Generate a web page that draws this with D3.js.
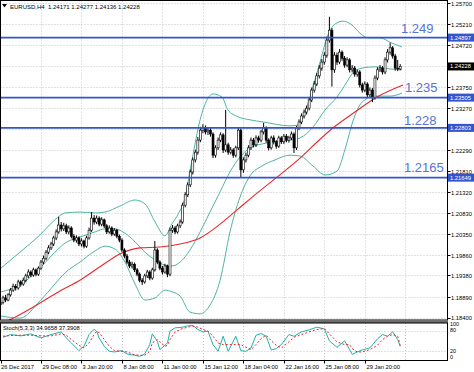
<!DOCTYPE html>
<html><head><meta charset="utf-8">
<script src="https://cdn.jsdelivr.net/npm/d3@7"></script>
<style>body{margin:0;background:#fff}svg{display:block}</style>
</head><body>
<svg id="c" width="474" height="372"></svg>
<script>
const titleText = "EURUSD,H4  1.24171 1.24277 1.24136 1.24228";
const stochTitle = "Stoch(5,3,3) 34.9658 37.3908";

const openP = [1.1870,1.1876,1.1886,1.1881,1.1893,1.1904,1.1913,1.1909,1.1923,1.1918,
1.1927,1.1937,1.1946,1.1939,1.1951,1.1941,1.1955,1.1969,1.1978,1.1992,
1.2002,1.2011,1.2025,1.2039,1.2055,1.2046,1.2053,1.2039,1.2048,1.2029,
1.2020,1.2025,1.2011,1.2018,1.2006,1.2025,1.2043,1.2071,1.2062,1.2071,
1.2057,1.2067,1.2053,1.2039,1.2048,1.2034,1.2043,1.2029,1.2020,1.1997,
1.1983,1.1969,1.1960,1.1964,1.1951,1.1941,1.1927,1.1923,1.1937,1.1946,
1.1932,1.1951,1.1997,1.1969,1.1955,1.1946,1.1960,1.1941,1.2043,1.2048,
1.2039,1.2053,1.2062,1.2101,1.2125,1.2148,1.2178,1.2206,1.2224,1.2252,
1.2275,1.2280,1.2271,1.2275,1.2266,1.2217,1.2234,1.2252,1.2264,1.2229,
1.2241,1.2224,1.2229,1.2217,1.2234,1.2275,1.2183,1.2206,1.2217,1.2234,
1.2252,1.2241,1.2257,1.2252,1.2271,1.2280,1.2252,1.2234,1.2257,1.2248,
1.2238,1.2257,1.2248,1.2261,1.2252,1.2257,1.2266,1.2234,1.2280,1.2294,
1.2308,1.2317,1.2326,1.2345,1.2368,1.2382,1.2401,1.2419,1.2433,1.2449,
1.2484,1.2507,1.2415,1.2449,1.2433,1.2456,1.2442,1.2426,1.2438,1.2415,
1.2419,1.2405,1.2410,1.2380,1.2368,1.2382,1.2357,1.2368,1.2350,1.2396,
1.2415,1.2419,1.2410,1.2438,1.2456,1.2466,1.2447,1.2419,1.2417];
const highP = [1.1882,1.1891,1.1893,1.1897,1.1909,1.1919,1.1918,1.1928,1.1927,1.1933,
1.1942,1.1952,1.1950,1.1956,1.1954,1.1959,1.1974,1.1984,1.1997,1.2008,
1.2016,1.2030,1.2045,1.2074,1.2062,1.2060,1.2058,1.2054,1.2052,1.2034,
1.2031,1.2029,1.2024,1.2021,1.2030,1.2049,1.2085,1.2078,1.2077,1.2075,
1.2073,1.2070,1.2057,1.2054,1.2052,1.2048,1.2046,1.2033,1.2024,1.2001,
1.1988,1.1974,1.1970,1.1968,1.1955,1.1945,1.1932,1.1942,1.1951,1.1950,
1.1956,1.2018,1.2001,1.1973,1.1960,1.1965,1.1963,1.2049,1.2055,1.2053,
1.2058,1.2068,1.2107,1.2131,1.2154,1.2184,1.2212,1.2230,1.2259,1.2283,
1.2289,1.2286,1.2282,1.2280,1.2270,1.2240,1.2258,1.2270,1.2268,1.2322,
1.2246,1.2236,1.2233,1.2239,1.2281,1.2279,1.2212,1.2223,1.2240,1.2258,
1.2257,1.2263,1.2262,1.2276,1.2292,1.2284,1.2256,1.2262,1.2263,1.2252,
1.2262,1.2261,1.2266,1.2266,1.2262,1.2272,1.2270,1.2285,1.2300,1.2314,
1.2323,1.2332,1.2351,1.2374,1.2389,1.2408,1.2426,1.2440,1.2456,1.2492,
1.2538,1.2512,1.2456,1.2455,1.2463,1.2460,1.2447,1.2444,1.2442,1.2426,
1.2424,1.2416,1.2414,1.2385,1.2388,1.2386,1.2374,1.2373,1.2402,1.2421,
1.2426,1.2424,1.2444,1.2463,1.2478,1.2470,1.2452,1.2438,1.2428];
const lowP = [1.1864,1.1871,1.1876,1.1878,1.1889,1.1900,1.1903,1.1905,1.1912,1.1914,
1.1922,1.1932,1.1934,1.1935,1.1936,1.1937,1.1951,1.1964,1.1973,1.1987,
1.1997,1.2006,1.2020,1.2035,1.2040,1.2041,1.2034,1.2033,1.2024,1.2015,
1.2014,1.2006,1.2005,1.2001,1.2002,1.2021,1.2039,1.2056,1.2057,1.2052,
1.2052,1.2048,1.2034,1.2035,1.2029,1.2030,1.2024,1.2015,1.1992,1.1978,
1.1964,1.1955,1.1954,1.1946,1.1936,1.1922,1.1916,1.1919,1.1932,1.1927,
1.1928,1.1947,1.1964,1.1950,1.1940,1.1942,1.1934,1.1936,1.2037,1.2034,
1.2035,1.2048,1.2058,1.2096,1.2120,1.2143,1.2172,1.2200,1.2218,1.2247,
1.2268,1.2265,1.2264,1.2260,1.2210,1.2211,1.2229,1.2247,1.2222,1.2224,
1.2218,1.2219,1.2211,1.2212,1.2229,1.2166,1.2176,1.2200,1.2212,1.2229,
1.2235,1.2236,1.2246,1.2247,1.2265,1.2246,1.2228,1.2230,1.2242,1.2232,
1.2234,1.2243,1.2243,1.2247,1.2246,1.2252,1.2222,1.2229,1.2275,1.2289,
1.2302,1.2311,1.2321,1.2340,1.2362,1.2377,1.2395,1.2413,1.2427,1.2443,
1.2478,1.2376,1.2408,1.2426,1.2428,1.2436,1.2420,1.2421,1.2409,1.2409,
1.2399,1.2399,1.2374,1.2362,1.2363,1.2350,1.2352,1.2340,1.2346,1.2391,
1.2410,1.2404,1.2405,1.2432,1.2450,1.2441,1.2413,1.2412,1.2414];
const closeP = [1.1876,1.1886,1.1881,1.1893,1.1904,1.1913,1.1909,1.1923,1.1918,1.1927,
1.1937,1.1946,1.1939,1.1951,1.1941,1.1955,1.1969,1.1978,1.1992,1.2002,
1.2011,1.2025,1.2039,1.2055,1.2046,1.2053,1.2039,1.2048,1.2029,1.2020,
1.2025,1.2011,1.2018,1.2006,1.2025,1.2043,1.2071,1.2062,1.2071,1.2057,
1.2067,1.2053,1.2039,1.2048,1.2034,1.2043,1.2029,1.2020,1.1997,1.1983,
1.1969,1.1960,1.1964,1.1951,1.1941,1.1927,1.1923,1.1937,1.1946,1.1932,
1.1951,1.1997,1.1969,1.1955,1.1946,1.1960,1.1941,1.2043,1.2048,1.2039,
1.2053,1.2062,1.2101,1.2125,1.2148,1.2178,1.2206,1.2224,1.2252,1.2275,
1.2280,1.2271,1.2275,1.2266,1.2217,1.2234,1.2252,1.2264,1.2229,1.2241,
1.2224,1.2229,1.2217,1.2234,1.2275,1.2183,1.2206,1.2217,1.2234,1.2252,
1.2241,1.2257,1.2252,1.2271,1.2280,1.2252,1.2234,1.2257,1.2248,1.2238,
1.2257,1.2248,1.2261,1.2252,1.2257,1.2266,1.2234,1.2280,1.2294,1.2308,
1.2317,1.2326,1.2345,1.2368,1.2382,1.2401,1.2419,1.2433,1.2449,1.2484,
1.2507,1.2415,1.2449,1.2433,1.2456,1.2442,1.2426,1.2438,1.2415,1.2419,
1.2405,1.2410,1.2380,1.2368,1.2382,1.2357,1.2368,1.2350,1.2396,1.2415,
1.2419,1.2410,1.2438,1.2456,1.2466,1.2447,1.2419,1.2417,1.2423];

// Bollinger bands
const upperBars = [0.2,7.7,15.6,21.5,25.5,31.4,37.4,41.3,47.2,53.2,57.1,61.1,65.0,67.8,70.2,72.9,75.7,78.9,81.6,84.0,87.5,89.9,93.9,98.6,103.8,114.4,117.6,120.4,123.1,126.3,129.4,132.2,135.4,138.9,142.1,145.3,150.0,154.7,158.7];
const upperVals = [1.1955,1.1992,1.2032,1.2067,1.2083,1.2085,1.2083,1.2085,1.2099,1.2113,1.2104,1.2062,1.2030,1.2058,1.2080,1.2118,1.2206,1.2299,1.2345,1.2359,1.2352,1.2322,1.2306,1.2299,1.2294,1.2285,1.2287,1.2317,1.2368,1.2433,1.2496,1.2521,1.2528,1.2519,1.2500,1.2489,1.2489,1.2477,1.2468];
const bandBars = [0.2,7.7,15.6,21.5,25.5,31.4,37.4,41.3,45.3,49.2,53.2,57.1,61.1,65.0,67.8,71.0,74.9,78.9,82.8,86.8,90.7,94.7,98.6,103.4,108.5,114.4,118.4,123.5,128.3,133.0,136.2,139.3,142.9,148.0,154.0,158.7];
const middleVals = [1.1900,1.1916,1.1955,1.1992,1.2013,1.2027,1.2039,1.2046,1.2046,1.2036,1.2016,1.1992,1.1974,1.1962,1.1960,1.1969,1.1997,1.2039,1.2085,1.2132,1.2178,1.2213,1.2234,1.2243,1.2248,1.2252,1.2257,1.2282,1.2322,1.2352,1.2380,1.2408,1.2419,1.2422,1.2417,1.2415];
const lowerVals = [1.1844,1.1839,1.1879,1.1918,1.1944,1.1969,1.1995,1.2006,1.1999,1.1969,1.1918,1.1881,1.1886,1.1904,1.1900,1.1890,1.1853,1.1849,1.1869,1.1927,1.2039,1.2120,1.2169,1.2192,1.2206,1.2217,1.2215,1.2192,1.2171,1.2180,1.2231,1.2296,1.2340,1.2354,1.2354,1.2361];

// Red moving average
const maBars = [0,5.0,15.6,23.5,31.4,39.3,47.2,55.1,63.0,71.0,78.9,86.8,93.5,101.4,109.3,118.4,126.3,131.4,140.1,148.8,159.1];
const maVals = [1.1825,1.1839,1.1874,1.1902,1.1927,1.1958,1.1988,1.2002,1.2004,1.2011,1.2025,1.2057,1.2090,1.2129,1.2166,1.2210,1.2254,1.2280,1.2317,1.2352,1.2380];

// Stochastic
const stochBars = [1,4,8,12,16,20,24,26,28,31,33,35,37,38,39,41,43,45,48,50,53,55,57,59,60,62,63,65,66,67,69,72,74,76,78,80,82,84,86,88,90,93,95,97,99,101,103,105,107,109,111,114,116,119,122,125,128,130,133,136,138,139,141,143,146,149,151,153,155,157,158];
const stochK = [62,70,66,72,60,70,78,60,45,22,35,70,86,80,60,35,20,18,22,12,8,5,12,40,72,50,25,38,45,80,90,92,96,97,85,78,80,40,20,65,20,65,22,20,30,68,73,65,24,28,40,70,65,78,84,92,87,51,32,51,25,11,18,24,30,57,70,65,78,55,35];
const stochD = [65,67,68,68,66,66,72,68,55,38,30,45,70,80,76,55,35,22,20,18,10,8,8,20,45,55,48,35,38,55,78,88,92,95,92,85,80,65,45,40,40,40,40,32,25,40,58,68,52,38,30,48,62,70,78,85,88,72,48,40,40,28,18,18,25,38,55,65,70,65,37];
const stochLevels = [80, 20];
const stochAxisLabels = ["100","80","20","0"];
const stochAxisValues = [100, 80, 20, 0];

// Axes
const priceTicks = [1.25700,1.25210,1.24720,1.24235,1.23750,1.23270,1.22780,1.22290,1.21810,1.21320,1.20830,1.20350,1.19860,1.19380,1.18890,1.18400];
const priceTickLabels = ["1.25700","1.25210","1.24720","","1.23750","1.23270","","1.22290","1.21810","1.21320","1.20830","1.20350","1.19860","1.19380","1.18890","1.18400"];
const dateLabels = ["26 Dec 2017","29 Dec 08:00","3 Jan 20:00","8 Jan 08:00","11 Jan 00:00","15 Jan 12:00","18 Jan 04:00","22 Jan 16:00","25 Jan 08:00","29 Jan 20:00"];
const dateBars = [0,16,32,48,64,80,96,112,128,144];
const gridBars = [16,32,48,64,80,96,112,128,144,160];

// Horizontal levels
const levelValues = [1.24897,1.23505,1.22803,1.21649];
const levelBoxLabels = ["1.24897","1.23505","1.22803","1.21649"];
const levelTexts = ["1.249","1.235","1.228","1.2165"];
const lastPrice = 1.24228;
const lastPriceLabel = "1.24228";

// ---------- drawing ----------
const svg = d3.select("#c");
const plotL = 0.5, plotR = 447.5, mainT = 0.5, mainB = 320, stochT = 323, stochB = 360.5;
const FONT = "'Liberation Sans', Arial, sans-serif";
const BLUE = "#3356cc";

svg.append("rect").attr("width",474).attr("height",372).attr("fill","#fff");

const x = d3.scaleLinear().domain([0,160]).range([0.5, 0.5 + 2.53*160]);
const y = d3.scaleLinear().domain([1.184,1.257]).range([317.7,3]);
const ys = d3.scaleLinear().domain([0,100]).range([358,324.5]);

const defs = svg.append("defs");
defs.append("clipPath").attr("id","cm").append("rect").attr("x",plotL).attr("y",mainT).attr("width",plotR-plotL).attr("height",mainB-mainT);
defs.append("clipPath").attr("id","cs").append("rect").attr("x",plotL).attr("y",stochT).attr("width",plotR-plotL).attr("height",stochB-stochT);

// grid
const grid = svg.append("g").attr("stroke","#c4c4c4").attr("stroke-width",1).attr("stroke-dasharray","1,2");
priceTicks.forEach(p => grid.append("line").attr("x1",plotL).attr("x2",plotR).attr("y1",Math.round(y(p))+0.5).attr("y2",Math.round(y(p))+0.5));
gridBars.forEach(b => {
  const gx = Math.round(x(b))+0.5;
  grid.append("line").attr("x1",gx).attr("x2",gx).attr("y1",mainT).attr("y2",mainB);
  grid.append("line").attr("x1",gx).attr("x2",gx).attr("y1",stochT).attr("y2",stochB);
});
stochLevels.forEach(v => grid.append("line").attr("x1",plotL).attr("x2",plotR).attr("y1",Math.round(ys(v))+0.5).attr("y2",Math.round(ys(v))+0.5));

const main = svg.append("g").attr("clip-path","url(#cm)");
const lineGen = (bars, vals) => d3.line().x((d,i)=>x(bars[i])).y(d=>y(d)).curve(d3.curveMonotoneX)(vals);

// bands
const bbColor = "#4fb3a2";
main.append("path").attr("d",lineGen(upperBars,upperVals)).attr("fill","none").attr("stroke",bbColor).attr("stroke-width",1);
main.append("path").attr("d",lineGen(bandBars,middleVals)).attr("fill","none").attr("stroke",bbColor).attr("stroke-width",1);
main.append("path").attr("d",lineGen(bandBars,lowerVals)).attr("fill","none").attr("stroke",bbColor).attr("stroke-width",1);
// MA
main.append("path").attr("d",lineGen(maBars,maVals)).attr("fill","none").attr("stroke","#e8282b").attr("stroke-width",1.1);

// candles
const cg = main.append("g");
closeP.forEach((c,i) => {
  const cx = x(i), o = openP[i];
  cg.append("line").attr("x1",cx).attr("x2",cx).attr("y1",y(highP[i])).attr("y2",y(lowP[i])).attr("stroke","#000").attr("stroke-width",1);
  const top = y(Math.max(o,c)), bot = y(Math.min(o,c));
  const bull = c >= o;
  cg.append("rect").attr("x",cx-1).attr("width",2).attr("y",top).attr("height",Math.max(0.8,bot-top))
    .attr("fill", bull ? "#fff" : "#000").attr("stroke","#000").attr("stroke-width",0.6);
});

// horizontal levels
levelValues.forEach((v,i) => {
  main.append("line").attr("x1",plotL).attr("x2",plotR).attr("y1",y(v)).attr("y2",y(v)).attr("stroke",BLUE).attr("stroke-width",1.6);
});
const levelTextPos = [[401,33],[405,92],[404,125],[404,172]];
levelTexts.forEach((t,i) => {
  svg.append("text").attr("x",levelTextPos[i][0]).attr("y",levelTextPos[i][1]).text(t)
    .attr("font-family",FONT).attr("font-size",13).attr("fill","#5574d4");
});

// frames
svg.append("rect").attr("x",plotL).attr("y",mainT).attr("width",plotR-plotL).attr("height",mainB-mainT).attr("fill","none").attr("stroke","#000").attr("stroke-width",1);
svg.append("rect").attr("x",0).attr("y",320).attr("width",plotR+0.5).attr("height",3).attr("fill","#6e6e6e");
svg.append("rect").attr("x",plotL).attr("y",stochT).attr("width",plotR-plotL).attr("height",stochB-stochT).attr("fill","none").attr("stroke","#000").attr("stroke-width",1);

// stochastic
const sg = svg.append("g").attr("clip-path","url(#cs)");
const sLine = vals => d3.line().x((d,i)=>x(stochBars[i])).y(d=>ys(d))(vals);
sg.append("path").attr("d",sLine(stochK)).attr("fill","none").attr("stroke","#20b2aa").attr("stroke-width",1);
sg.append("path").attr("d",sLine(stochD)).attr("fill","none").attr("stroke","#e8282b").attr("stroke-width",1).attr("stroke-dasharray","2,2");
svg.append("text").attr("x",3).attr("y",330).text(stochTitle).attr("font-family",FONT).attr("font-size",5.8).attr("fill","#000");

// title
svg.append("path").attr("d","M2,4 L7,4 L4.5,7.5 Z").attr("fill","#000");
svg.append("text").attr("x",10).attr("y",9).text(titleText).attr("font-family",FONT).attr("font-size",6).attr("fill","#000").attr("xml:space","preserve").style("white-space","pre");

// price axis
const ax = svg.append("g").attr("font-family",FONT).attr("font-size",5.8).attr("fill","#000");
priceTicks.forEach((p,i) => {
  const py = Math.round(y(p))+0.5;
  svg.append("line").attr("x1",plotR).attr("x2",plotR+3).attr("y1",py).attr("y2",py).attr("stroke","#000");
  if (priceTickLabels[i]) ax.append("text").attr("x",451).attr("y",py+(i===priceTicks.length-1?1:2)).text(priceTickLabels[i]);
});
levelValues.forEach((v,i) => {
  const py = y(v);
  svg.append("rect").attr("x",448).attr("y",py-4).attr("width",26).attr("height",8).attr("fill",BLUE);
  svg.append("text").attr("x",450).attr("y",py+2).text(levelBoxLabels[i]).attr("font-family",FONT).attr("font-size",5.8).attr("fill","#fff");
});
{
  const py = y(lastPrice);
  svg.append("rect").attr("x",448).attr("y",py-4).attr("width",26).attr("height",8).attr("fill","#000");
  svg.append("text").attr("x",450).attr("y",py+2).text(lastPriceLabel).attr("font-family",FONT).attr("font-size",5.8).attr("fill","#fff");
}
// stoch axis labels, packed tightly at the window edges as in MT4
const stochLabelShift = {100: -0.6, 80: -1.5, 20: -0.3, 0: -1.5};
stochAxisValues.forEach((v,i) => {
  const py = ys(v) + 2 + stochLabelShift[v];
  svg.append("text").attr("x",450).attr("y",py).text(stochAxisLabels[i]).attr("font-family",FONT).attr("font-size",5.5).attr("fill","#000");
});

// date axis
dateLabels.forEach((t,i) => {
  const gx = Math.round(x(dateBars[i]))+0.5;
  svg.append("line").attr("x1",gx).attr("x2",gx).attr("y1",stochB).attr("y2",stochB+3).attr("stroke","#000");
  svg.append("text").attr("x",i===0?1:gx+1).attr("y",369).text(t).attr("font-family",FONT).attr("font-size",5.8).attr("fill","#000");
});
</script>
</body></html>
